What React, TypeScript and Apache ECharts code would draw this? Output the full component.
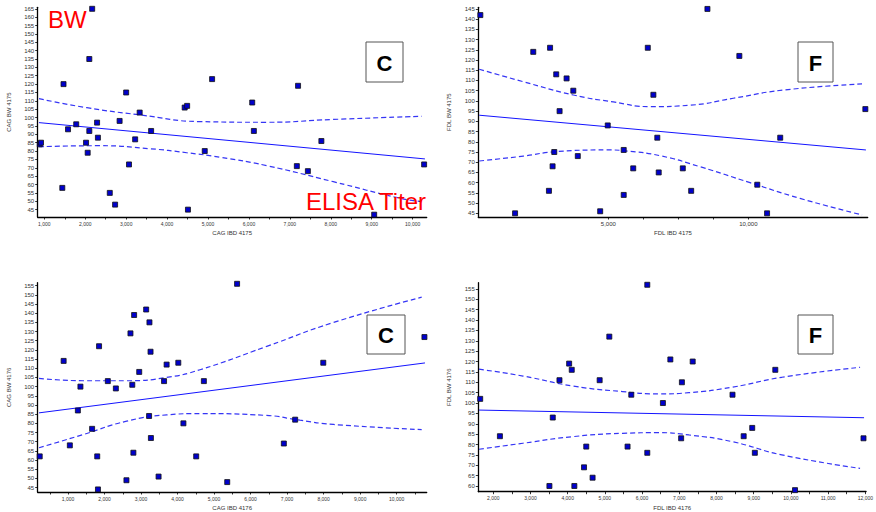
import React, { useEffect, useRef } from "react";
import * as echarts from "echarts";

type P = [number, number];

// ---- Top-left: CAG IBD 4175 vs CAG BW 4175 ----
const cag4175Points: P[] = [
  [2170, 165], [2100, 135], [1470, 120], [3000, 115], [4430, 106], [4490, 107], [5100, 123],
  [3330, 103], [2840, 98], [2290, 97], [1780, 96], [1580, 93], [3610, 92], [2100, 92],
  [2310, 88], [3220, 87], [890, 84], [920, 85], [2020, 85], [2060, 79], [4920, 80],
  [3070, 72], [1440, 58], [2600, 55], [2730, 48], [4510, 45], [6080, 109], [7200, 119],
  [6120, 92], [7770, 86], [7170, 71], [7440, 68], [10280, 72], [9060, 42],
];
const cag4175Fit: P[] = [[870, 97], [10300, 75.3]];
const cag4175Upper: P[] = [[870, 111.3], [2040, 105.9], [3340, 101.6], [4800, 97.6], [6430, 97.2], [8060, 98.9], [10220, 100.8]];
const cag4175Lower: P[] = [[870, 82.6], [2360, 83.2], [3580, 81.4], [4480, 79], [5290, 76.3], [6430, 71.3], [8060, 61.7], [9690, 51.8], [10220, 49.8]];

// ---- Top-right: FDL IBD 4175 vs FDL BW 4175 ----
const fdl4175Points: P[] = [
  [430, 142], [2320, 124], [2920, 126], [3140, 113], [3510, 111], [3750, 105], [3260, 95],
  [4980, 88], [6410, 126], [6610, 103], [6750, 82], [5550, 76], [3070, 75], [3910, 73],
  [3010, 68], [5890, 67], [6800, 65], [2880, 56], [5550, 54], [1670, 45], [4710, 46],
  [8540, 145], [9680, 122], [14180, 96], [11140, 82], [7660, 67], [7960, 56], [10320, 59], [10670, 45],
];
const fdl4175Fit: P[] = [[390, 93], [14200, 76]];
const fdl4175Upper: P[] = [[390, 115.5], [1964, 109.4], [3750, 102.9], [5179, 99.5], [6489, 97.2], [7918, 97.9], [9464, 101.3], [11250, 105.3], [14061, 108.3]];
const fdl4175Lower: P[] = [[390, 70.6], [1964, 73], [3157, 75.2], [4943, 76], [5657, 75.5], [6846, 73.2], [8275, 67.8], [10061, 60], [11846, 52.3], [14061, 44.2]];

// ---- Bottom-left: CAG IBD 4176 vs CAG BW 4176 ----
const cag4176Points: P[] = [
  [225, 62], [880, 114], [1050, 68], [1270, 87], [1340, 100], [1660, 77], [1850, 122], [1800, 62],
  [1820, 44], [2090, 103], [2310, 99], [2600, 49], [2710, 129], [2760, 101], [2790, 64], [2810, 139],
  [2950, 108], [3140, 142], [3230, 135], [3220, 84], [3260, 119], [3270, 72], [3480, 51], [3630, 103],
  [3700, 112], [4020, 113], [4160, 80], [4510, 62], [4720, 103], [5630, 156], [7990, 113], [10760, 127],
  [7220, 82], [6910, 69], [5360, 48],
];
const cag4176Fit: P[] = [[206, 85.7], [10775, 112.9]];
const cag4176Upper: P[] = [[206, 104.5], [1419, 103.2], [2607, 103.2], [3703, 105], [4614, 109.2], [6441, 121.9], [8265, 134.9], [10685, 148.7]];
const cag4176Lower: P[] = [[206, 66.7], [1419, 73.9], [2607, 81.2], [3703, 84.6], [4614, 85.3], [6441, 84.3], [7353, 81.7], [8265, 79.4], [10685, 76.6]];

// ---- Bottom-right: FDL IBD 4176 vs FDL BW 4176 ----
const fdl4176Points: P[] = [
  [1650, 102], [2180, 84], [3510, 60], [3600, 93], [3780, 111], [4040, 119], [4110, 116], [4180, 60],
  [4500, 79], [4440, 69], [4670, 64], [4860, 111], [5120, 132], [5610, 79], [5710, 104], [6140, 157],
  [6140, 76], [6760, 121], [7360, 120], [7070, 110], [6560, 100], [7050, 83], [8430, 104], [8730, 84],
  [8960, 88], [9030, 76], [9580, 116], [10110, 58], [11950, 83],
];
const fdl4176Fit: P[] = [[1618, 96.6], [11965, 92.9]];
const fdl4176Upper: P[] = [[1618, 116.3], [2802, 113], [4139, 108.2], [5476, 105.5], [6457, 104.4], [7259, 105], [8417, 107.6], [9754, 112.4], [11858, 117.2]];
const fdl4176Lower: P[] = [[1618, 77.7], [2802, 80.6], [4139, 83.8], [5476, 85.4], [6457, 85.7], [7259, 84.6], [8417, 81.4], [9754, 75], [11858, 68.5]];

// ---- ticks / labels ----
const steps = (a: number, b: number, s: number) => {
  const out: number[] = [];
  for (let v = a; v <= b + 1e-9; v += s) out.push(v);
  return out;
};
const tlXTicks = steps(1000, 10000, 500);
const tlXLabels = steps(1000, 10000, 1000);
const tlYTicks = steps(45, 165, 5);
const trXTicks = [5000, 6250, 7500, 8750, 10000];
const trXLabels = [5000, 10000];
const trYTicks = steps(45, 145, 5);
const blXTicks = steps(500, 10500, 500);
const blXLabels = steps(1000, 10000, 1000);
const blYTicks = steps(45, 155, 5);
const brXTicks = steps(2000, 12000, 500);
const brXLabels = steps(2000, 12000, 1000);
const brYTicks = steps(60, 155, 5);

const FONT = "'Liberation Sans', Arial, Helvetica, sans-serif";

const panels = [
  {
    grid: { left: 37.7, top: 7.3, width: 389, height: 209.7 },
    xMin: 839, xMax: 10343, yMin: 40.6, yMax: 165.9,
    xName: "CAG IBD 4175", yName: "CAG BW 4175",
    xTicks: tlXTicks, xLabels: tlXLabels, yTicks: tlYTicks, xFont: 5,
    points: cag4175Points, fit: cag4175Fit, upper: cag4175Upper, lower: cag4175Lower,
  },
  {
    grid: { left: 478.3, top: 7.3, width: 389.4, height: 209.7 },
    xMin: 357, xMax: 14264, yMin: 43.2, yMax: 145.8,
    xName: "FDL IBD 4175", yName: "FDL BW 4175",
    xTicks: trXTicks, xLabels: trXLabels, yTicks: trYTicks, xFont: 6,
    points: fdl4175Points, fit: fdl4175Fit, upper: fdl4175Upper, lower: fdl4175Lower,
  },
  {
    grid: { left: 37.7, top: 282.7, width: 389, height: 210 },
    xMin: 170, xMax: 10822, yMin: 42.6, yMax: 156.6,
    xName: "CAG IBD 4176", yName: "CAG BW 4176",
    xTicks: blXTicks, xLabels: blXLabels, yTicks: blYTicks, xFont: 5,
    points: cag4176Points, fit: cag4176Fit, upper: cag4176Upper, lower: cag4176Lower,
  },
  {
    grid: { left: 478.3, top: 282.7, width: 389.7, height: 209 },
    xMin: 1599, xMax: 12019, yMin: 57.25, yMax: 158,
    xName: "FDL IBD 4176", yName: "FDL BW 4176",
    xTicks: brXTicks, xLabels: brXLabels, yTicks: brYTicks, xFont: 5,
    points: fdl4176Points, fit: fdl4176Fit, upper: fdl4176Upper, lower: fdl4176Lower,
  },
];

const boxes = [
  { x: 366, y: 42, w: 37, h: 40, t: "C" },
  { x: 798, y: 42, w: 35, h: 40, t: "F" },
  { x: 367, y: 315, w: 38, h: 39, t: "C" },
  { x: 798, y: 315, w: 35, h: 39, t: "F" },
];

const fmt = (v: number) => v.toLocaleString("en-US");

export default function App() {
  const ref = useRef<HTMLDivElement>(null);
  useEffect(() => {
    if (!ref.current) return;
    const chart = echarts.init(ref.current, undefined, { renderer: "svg" });
    const axisLine = { show: true, onZero: false, lineStyle: { color: "#000", width: 1.3 } };
    const band = (data: P[], i: number) => ({
      type: "line",
      xAxisIndex: i,
      yAxisIndex: i,
      data,
      smooth: 0.5,
      showSymbol: false,
      silent: true,
      lineStyle: { color: "#3535f5", width: 1.2, type: [5, 3] },
      z: 2,
    });
    const option: any = {
      animation: false,
      backgroundColor: "#fff",
      grid: panels.map((p) => ({ ...p.grid, containLabel: false })),
      xAxis: panels.map((p, i) => ({
        type: "value",
        gridIndex: i,
        min: p.xMin,
        max: p.xMax,
        name: p.xName,
        nameLocation: "middle",
        nameGap: 13,
        nameTextStyle: { fontSize: 6, color: "#333", fontFamily: FONT },
        axisLine,
        splitLine: { show: false },
        axisTick: { show: true, length: 2.5, customValues: p.xTicks, lineStyle: { color: "#000", width: 0.8 } },
        axisLabel: {
          customValues: p.xLabels,
          fontSize: p.xFont,
          color: "#333",
          fontFamily: FONT,
          margin: 4,
          formatter: fmt,
        },
      })),
      yAxis: panels.map((p, i) => ({
        type: "value",
        gridIndex: i,
        min: p.yMin,
        max: p.yMax,
        name: p.yName,
        nameLocation: "middle",
        nameGap: 26,
        nameTextStyle: { fontSize: 6, color: "#333", fontFamily: FONT },
        axisLine,
        splitLine: { show: false },
        axisTick: { show: true, length: 2.5, customValues: p.yTicks, lineStyle: { color: "#000", width: 0.8 } },
        axisLabel: {
          customValues: p.yTicks,
          fontSize: 6,
          color: "#333",
          fontFamily: FONT,
          margin: 3.5,
        },
      })),
      series: panels.flatMap((p, i) => [
        {
          type: "line",
          xAxisIndex: i,
          yAxisIndex: i,
          data: p.fit,
          showSymbol: false,
          silent: true,
          lineStyle: { color: "#1414ff", width: 1 },
          z: 2,
        },
        band(p.upper, i),
        band(p.lower, i),
        {
          type: "scatter",
          xAxisIndex: i,
          yAxisIndex: i,
          data: p.points,
          symbol: "rect",
          symbolSize: 5,
          itemStyle: { color: "#0000cc", borderColor: "#111", borderWidth: 0.8, opacity: 1 },
          z: 5,
        },
      ]),
      graphic: [
        ...boxes.flatMap((b) => [
          {
            type: "rect",
            shape: { x: b.x, y: b.y, width: b.w, height: b.h },
            style: { fill: "#fff", stroke: "#555", lineWidth: 1 },
            z: 10,
          },
          {
            type: "text",
            x: b.x + b.w / 2,
            y: b.y + b.h / 2 + 1,
            style: {
              text: b.t,
              fill: "#000",
              font: `bold 22px ${FONT}`,
              textAlign: "center",
              textVerticalAlign: "middle",
            },
            z: 11,
          },
        ]),
        {
          type: "text",
          x: 48,
          y: 19.5,
          style: { text: "BW", fill: "#ff0000", font: `24px ${FONT}`, textAlign: "left", textVerticalAlign: "middle" },
          z: 12,
        },
        {
          type: "text",
          x: 306,
          y: 201.5,
          style: { text: "ELISA Titer", fill: "#ff0000", font: `24px ${FONT}`, textAlign: "left", textVerticalAlign: "middle" },
          z: 12,
        },
      ],
    };
    chart.setOption(option);
    return () => chart.dispose();
  }, []);
  return (
    <div
      ref={ref}
      style={{ position: "fixed", left: 0, top: 0, width: 876, height: 512, background: "#fff" }}
    />
  );
}
